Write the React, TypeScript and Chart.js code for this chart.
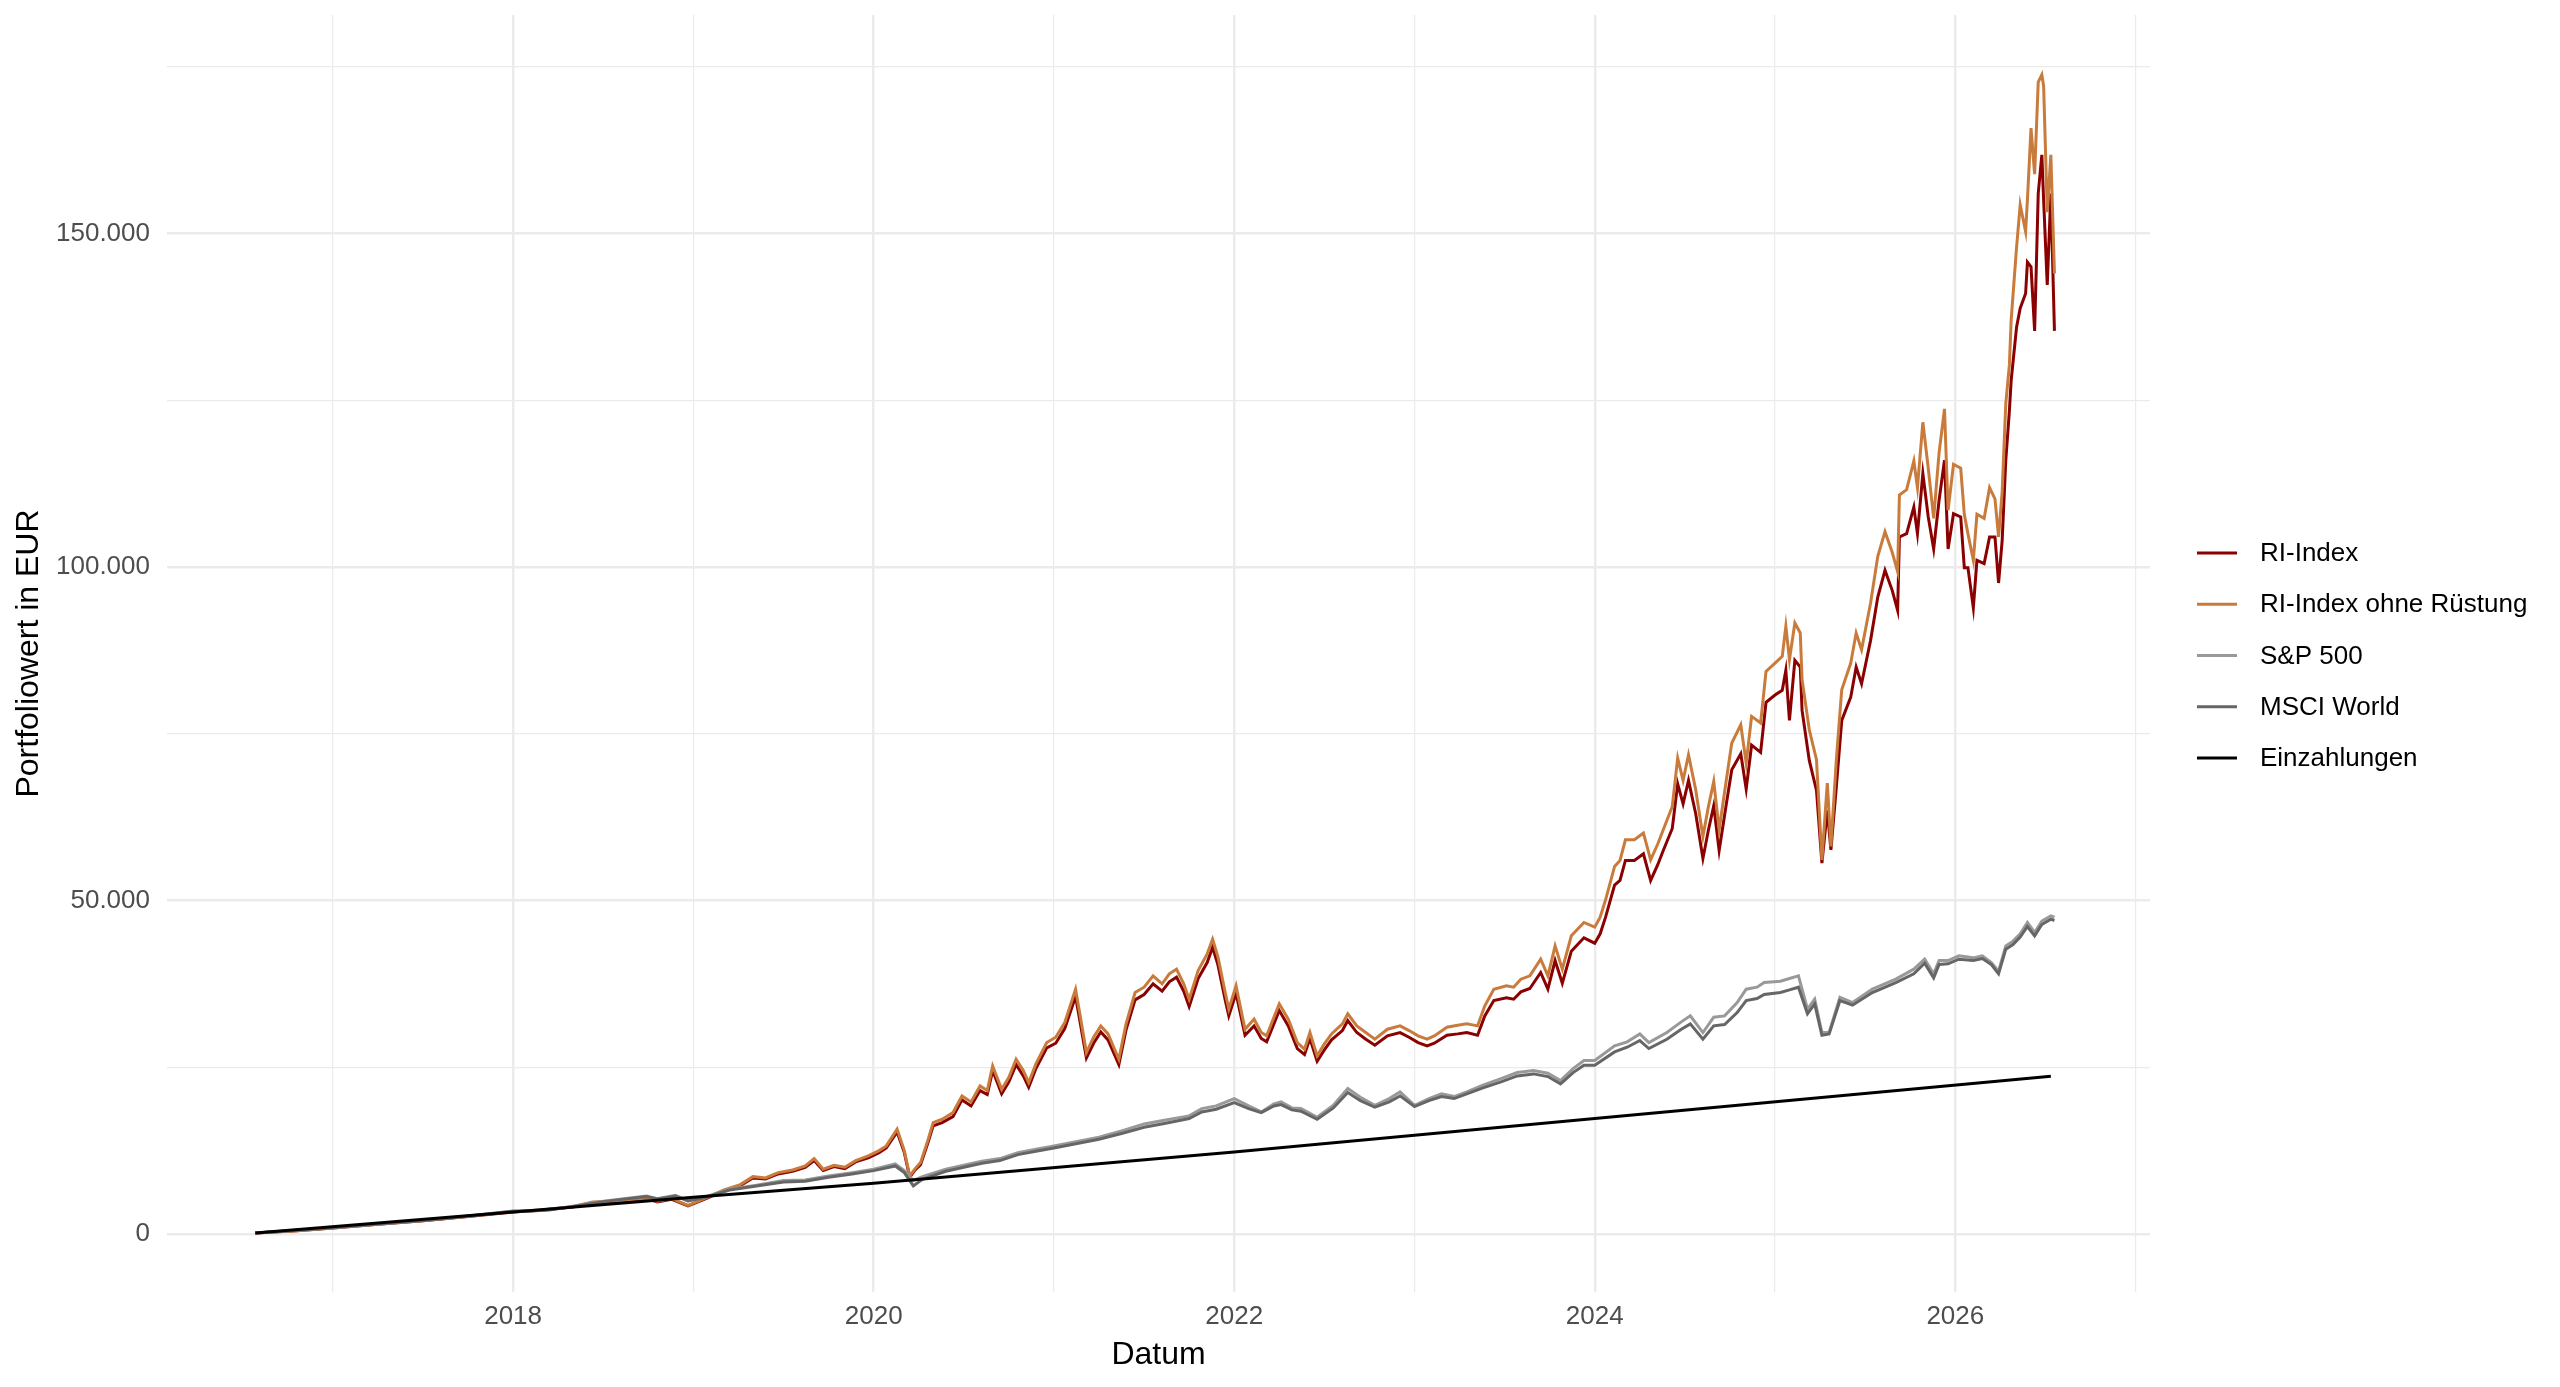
import React, { useEffect, useRef } from "react";
import { Chart, registerables } from "chart.js";

Chart.register(...registerables);

// ---------- data (decimal years) ----------
const riDates = [
  2016.57, 2016.8, 2017.0, 2017.25, 2017.5, 2017.75, 2018.0, 2018.15, 2018.33, 2018.44,
  2018.6, 2018.74, 2018.8, 2018.88, 2018.97, 2019.07, 2019.17, 2019.26, 2019.33, 2019.4,
  2019.47, 2019.55, 2019.62, 2019.67, 2019.72, 2019.78, 2019.84, 2019.9, 2019.97, 2020.03,
  2020.07, 2020.13, 2020.17, 2020.2, 2020.23, 2020.26, 2020.3, 2020.33, 2020.38, 2020.44,
  2020.49, 2020.54, 2020.59, 2020.63, 2020.66, 2020.71, 2020.75, 2020.79, 2020.83, 2020.86,
  2020.9, 2020.96, 2021.01, 2021.06, 2021.12, 2021.15, 2021.18, 2021.22, 2021.26, 2021.3,
  2021.36, 2021.4, 2021.45, 2021.5, 2021.55, 2021.6, 2021.64, 2021.68, 2021.72, 2021.75,
  2021.8, 2021.85, 2021.88, 2021.91, 2021.95, 2021.97, 2022.01, 2022.06, 2022.11, 2022.15,
  2022.18, 2022.22, 2022.25, 2022.3, 2022.35, 2022.39, 2022.42, 2022.46, 2022.5, 2022.54,
  2022.6, 2022.63, 2022.68, 2022.73, 2022.78, 2022.85, 2022.92, 2022.97, 2023.02, 2023.07,
  2023.11, 2023.18, 2023.24, 2023.29, 2023.35, 2023.39, 2023.44, 2023.51, 2023.55, 2023.59,
  2023.64, 2023.7, 2023.74, 2023.78, 2023.82, 2023.87, 2023.94, 2024.0, 2024.03, 2024.06,
  2024.11, 2024.14, 2024.17, 2024.22, 2024.27, 2024.31, 2024.35, 2024.38, 2024.43, 2024.46,
  2024.49, 2024.52, 2024.56, 2024.6, 2024.63, 2024.66, 2024.69, 2024.73, 2024.76, 2024.81,
  2024.84, 2024.87, 2024.92, 2024.95, 2025.0, 2025.04, 2025.06, 2025.08, 2025.11, 2025.14,
  2025.15, 2025.19, 2025.23, 2025.26, 2025.29, 2025.31, 2025.34, 2025.37, 2025.42, 2025.45,
  2025.48, 2025.53, 2025.57, 2025.61, 2025.65, 2025.68, 2025.69, 2025.73, 2025.77, 2025.79,
  2025.82, 2025.85, 2025.88, 2025.91, 2025.94, 2025.96, 2025.99, 2026.03, 2026.05, 2026.07,
  2026.1, 2026.12, 2026.16, 2026.19, 2026.22, 2026.24, 2026.26, 2026.28, 2026.3, 2026.31,
  2026.34, 2026.36, 2026.39, 2026.4, 2026.42, 2026.44, 2026.46, 2026.48, 2026.49, 2026.51,
  2026.53, 2026.55,
];

const riIndexOhneRuestung = [
  150, 500, 900, 1450, 2000, 2650, 3350, 3600, 4100, 4800,
  5000, 5400, 4900, 5300, 4300, 5400, 6600, 7400, 8600, 8400,
  9200, 9600, 10200, 11300, 9700, 10300, 10000, 11000, 11700, 12500,
  13200, 15700, 12500, 8700, 9800, 10700, 14000, 16700, 17200, 18200,
  20700, 19800, 22200, 21500, 25200, 21700, 23500, 26200, 24500, 22700,
  25500, 28700, 29500, 31700, 36700, 32000, 27200, 29500, 31200, 30000,
  26200, 31500, 36200, 37000, 38700, 37500, 39000, 39700, 37500, 35200,
  39500, 42000, 44200, 41500, 36200, 33700, 37200, 30700, 32200, 30200,
  29700, 32500, 34500, 32200, 28700, 27700, 30200, 26700, 28500, 30000,
  31500, 33000, 31200, 30200, 29200, 30700, 31200, 30500, 29700, 29200,
  29700, 31000, 31300, 31500, 31200, 34200, 36700, 37200, 37000, 38200,
  38700, 41200, 38700, 43200, 39700, 44700, 46700, 46000, 47500, 50100,
  55100, 56000, 59100, 59100, 60100, 56100, 58500, 60600, 64100, 71350,
  68000, 71850, 66600, 59600, 64000, 67850, 60600, 68100, 73600, 76350,
  70600, 77600, 76600, 84350, 85600, 86600, 91100, 86100, 91600, 90100,
  83100, 75600, 71100, 56100, 67600, 58100, 71100, 81600, 85600, 90100,
  87600, 94600, 101600, 105300, 102200, 99300, 110800, 111600, 115900, 111900,
  121700, 114800, 107300, 117100, 123700, 108500, 115400, 114800, 107900, 105000,
  101000, 107900, 107300, 111900, 110200, 104500, 111300, 124500, 130300, 137100,
  148000, 154300, 150300, 155000, 165800, 158900, 172700, 173800, 172100, 153200,
  161800, 144000,
];

const riIndex = [
  150, 500, 900, 1440, 1980, 2620, 3300, 3550, 4050, 4700,
  4900, 5300, 4800, 5200, 4200, 5300, 6500, 7250, 8400, 8250,
  9000, 9400, 10000, 11000, 9500, 10100, 9800, 10800, 11400, 12200,
  12900, 15300, 12200, 8500, 9600, 10400, 13600, 16200, 16700, 17600,
  20100, 19200, 21500, 20900, 24500, 21000, 22800, 25400, 23700, 22000,
  24800, 27900, 28600, 30800, 35600, 31000, 26400, 28600, 30300, 29100,
  25400, 30600, 35100, 35900, 37500, 36400, 37800, 38500, 36400, 34100,
  38300, 40700, 43000, 40300, 35100, 32700, 36100, 29800, 31200, 29300,
  28800, 31500, 33500, 31200, 27800, 26900, 29300, 25900, 27600, 29100,
  30500, 32000, 30200, 29200, 28300, 29700, 30200, 29500, 28700, 28200,
  28600, 29800, 30000, 30200, 29800, 32700, 35000, 35400, 35200, 36300,
  36800, 39200, 36700, 41000, 37600, 42400, 44400, 43600, 45000, 47500,
  52300, 53000, 56000, 56000, 57000, 53000, 55400, 57500, 60800, 67500,
  64500, 68000, 63000, 56300, 60500, 64200, 57500, 64500, 69600, 72000,
  66700, 73300, 72200, 79700, 80800, 81500, 84500, 77000, 86000, 85000,
  78500, 71000, 66500, 55600, 63500, 57600, 67000, 77000, 80500, 85000,
  82500, 89000, 95500, 99500, 96500, 93500, 104500, 105000, 109000, 105000,
  114000, 107500, 102700, 110000, 116000, 102700, 108000, 107500, 99900, 99900,
  93900, 101000, 100500, 104500, 104500, 97600, 104000, 116000, 123400, 128000,
  136000, 138800, 141000, 145700, 145000, 135400, 156000, 161800, 155000, 142300,
  156000, 135400,
];

const idxDates = [
  2016.57, 2016.8, 2017.0, 2017.25, 2017.5, 2017.75, 2018.0, 2018.1, 2018.2, 2018.33,
  2018.5, 2018.74, 2018.8, 2018.9, 2018.97, 2019.07, 2019.2, 2019.35, 2019.5, 2019.62,
  2019.75, 2019.88, 2020.0, 2020.12, 2020.17, 2020.22, 2020.27, 2020.4, 2020.5, 2020.6,
  2020.7, 2020.8, 2020.9, 2021.0, 2021.1, 2021.25, 2021.38, 2021.5, 2021.62, 2021.75,
  2021.82, 2021.9, 2022.0, 2022.08, 2022.15, 2022.22, 2022.26, 2022.32, 2022.37, 2022.46,
  2022.55, 2022.63, 2022.7, 2022.78, 2022.86, 2022.92, 2023.0, 2023.08, 2023.15, 2023.22,
  2023.29, 2023.38, 2023.48, 2023.57, 2023.66, 2023.74, 2023.81, 2023.88, 2023.94, 2024.0,
  2024.11, 2024.18, 2024.25, 2024.3, 2024.4, 2024.48, 2024.53, 2024.6, 2024.66, 2024.72,
  2024.79, 2024.84, 2024.9, 2024.94, 2025.03, 2025.08, 2025.13, 2025.18, 2025.22, 2025.26,
  2025.3, 2025.36, 2025.43, 2025.54, 2025.67, 2025.77, 2025.83, 2025.88, 2025.91, 2025.96,
  2026.02, 2026.1, 2026.15, 2026.2, 2026.24, 2026.28, 2026.32, 2026.36, 2026.4, 2026.44,
  2026.48, 2026.53, 2026.55,
];

const sp500 = [
  150, 550, 950, 1500, 2050, 2700, 3450, 3500, 3650, 4150,
  4900, 5700, 5300, 5800, 5000, 5600, 6700, 7300, 8000, 8100,
  8700, 9200, 9700, 10500, 9500, 8000, 8600, 9700, 10300, 10900,
  11300, 12200, 12700, 13200, 13700, 14500, 15500, 16500, 17100, 17700,
  18800, 19200, 20300, 19200, 18300, 19500, 19800, 18900, 18800, 17500,
  19300, 21800, 20500, 19300, 20300, 21300, 19300, 20300, 21000, 20600,
  21300, 22300, 23300, 24200, 24500, 24100, 23000, 24800, 26000, 26000,
  28200, 28800, 30000, 28700, 30200, 31800, 32700, 30200, 32500, 32700,
  34700, 36700, 37000, 37700, 37900, 38300, 38700, 33700, 35200, 30200,
  30200, 35500, 34700, 36700, 38200, 39700, 41200, 39000, 41000, 41000,
  41700, 41400, 41700, 40700, 39400, 43200, 43900, 45000, 46700, 45200,
  46900, 47700, 47500,
];

const msciWorld = [
  150, 540, 930, 1480, 2020, 2650, 3400, 3450, 3600, 4100,
  4850, 5600, 5250, 5700, 4950, 5500, 6600, 7200, 7800, 7900,
  8500, 9000, 9500, 10200, 9200, 7200, 8200, 9400, 10000, 10600,
  11000, 11900, 12400, 12900, 13400, 14200, 15100, 16000, 16600, 17300,
  18300, 18700, 19700, 18800, 18200, 19200, 19400, 18600, 18400, 17200,
  18900, 21200, 20000, 19000, 19800, 20700, 19100, 20000, 20600, 20300,
  21000, 21900, 22800, 23700, 24000, 23600, 22500, 24200, 25300, 25300,
  27300, 28000, 29000, 27800, 29200, 30700, 31500, 29200, 31200, 31400,
  33200, 35000, 35300, 35900, 36200, 36600, 37000, 33000, 34500, 29800,
  30000, 35000, 34300, 36200, 37700, 39000, 40600, 38400, 40400, 40500,
  41200, 41000, 41300, 40400, 39000, 42700, 43400, 44500, 46100, 44700,
  46400, 47200, 47000,
];

const depositDates = [2016.57, 2018.0, 2019.0, 2020.0, 2022.0, 2024.0, 2026.53];
const deposits = [150, 3300, 5500, 7600, 12300, 17300, 23650];

const seriesLabels = ["RI-Index", "RI-Index ohne Rüstung", "S&P 500", "MSCI World", "Einzahlungen"];
const seriesColors = ["#8B0000", "#C97B3C", "#999999", "#666666", "#000000"];

const xTickValues = [2017, 2018, 2019, 2020, 2021, 2022, 2023, 2024, 2025, 2026, 2027];
const yTickValues = [0, 25000, 50000, 75000, 100000, 125000, 150000, 175000];

const FONT = '"Liberation Sans", Arial, Helvetica, sans-serif';

const pairs = (xs: number[], ys: number[]) => xs.map((x, i) => ({ x, y: ys[i] }));

const fmtThousands = (v: number) => String(Math.round(v)).replace(/\B(?=(\d{3})+(?!\d))/g, ".");

const sideLegend = {
  id: "sideLegend",
  afterDraw(chart: any) {
    const { ctx, chartArea } = chart;
    const ds = chart.data.datasets;
    const n = ds.length;
    const rowH = 51.2;
    const cy = (chartArea.top + chartArea.bottom) / 2 + 2;
    const y0 = cy - (rowH * (n - 1)) / 2;
    ctx.save();
    ctx.font = `26px ${FONT}`;
    ctx.textBaseline = "middle";
    ctx.textAlign = "left";
    ds.forEach((d: any, i: number) => {
      const y = y0 + i * rowH;
      ctx.strokeStyle = d.borderColor;
      ctx.lineWidth = 3;
      ctx.beginPath();
      ctx.moveTo(chartArea.right + 47, y);
      ctx.lineTo(chartArea.right + 87, y);
      ctx.stroke();
      ctx.fillStyle = "#000000";
      ctx.fillText(d.label, chartArea.right + 110, y + 1);
    });
    ctx.restore();
  },
};

export default function App() {
  const canvasRef = useRef<HTMLCanvasElement | null>(null);

  useEffect(() => {
    document.body.style.margin = "0";
    const canvas = canvasRef.current;
    if (!canvas) return;
    const dataSets = [
      pairs(riDates, riIndex),
      pairs(riDates, riIndexOhneRuestung),
      pairs(idxDates, sp500),
      pairs(idxDates, msciWorld),
      pairs(depositDates, deposits),
    ];
    const chart = new Chart(canvas, {
      type: "line",
      data: {
        datasets: dataSets.map((data, i) => ({
          label: seriesLabels[i],
          data,
          borderColor: seriesColors[i],
          backgroundColor: seriesColors[i],
          borderWidth: 3,
          pointRadius: 0,
          pointHoverRadius: 0,
          tension: 0,
          fill: false,
          order: 4 - i,
        })),
      },
      options: {
        animation: false,
        responsive: true,
        maintainAspectRatio: false,
        layout: { padding: { top: 15, right: 410, left: 0, bottom: 0 } },
        plugins: {
          legend: { display: false },
          tooltip: { enabled: false },
        },
        scales: {
          x: {
            type: "linear",
            min: 2016.08,
            max: 2027.08,
            afterBuildTicks: (scale: any) => {
              scale.ticks = xTickValues.map((v) => ({ value: v }));
            },
            afterFit: (scale: any) => {
              scale.height = 95;
              scale.paddingLeft = 0;
              scale.paddingRight = 0;
            },
            ticks: {
              autoSkip: false,
              maxRotation: 0,
              padding: 9,
              color: "#4D4D4D",
              font: { family: FONT, size: 26 },
              callback: (v: any) => (Number(v) % 2 === 0 ? String(v) : ""),
            },
            grid: {
              color: "#EBEBEB",
              lineWidth: (c: any) => (c.tick && c.tick.value % 2 === 0 ? 2.4 : 1.2),
              drawTicks: false,
            },
            border: { display: false },
            title: {
              display: true,
              text: "Datum",
              color: "#000000",
              font: { family: FONT, size: 32 },
              padding: { top: 0, bottom: 13 },
            },
          },
          y: {
            type: "linear",
            min: -8700,
            max: 182760,
            afterBuildTicks: (scale: any) => {
              scale.ticks = yTickValues.map((v) => ({ value: v }));
            },
            afterFit: (scale: any) => {
              scale.width = 167;
              scale.paddingTop = 0;
              scale.paddingBottom = 0;
            },
            ticks: {
              autoSkip: false,
              padding: 17,
              color: "#4D4D4D",
              font: { family: FONT, size: 26 },
              callback: (v: any) => (Number(v) % 50000 === 0 ? fmtThousands(Number(v)) : ""),
            },
            grid: {
              color: "#EBEBEB",
              lineWidth: (c: any) => (c.tick && c.tick.value % 50000 === 0 ? 2.4 : 1.2),
              drawTicks: false,
            },
            border: { display: false },
            title: {
              display: true,
              text: "Portfoliowert in EUR",
              color: "#000000",
              font: { family: FONT, size: 32 },
              padding: { top: 10, bottom: 0 },
            },
          },
        },
      },
      plugins: [sideLegend],
    } as any);
    return () => {
      chart.destroy();
    };
  }, []);

  return (
    <div style={{ position: "fixed", left: 0, top: 0, width: "100vw", height: "100vh", background: "#ffffff" }}>
      <canvas ref={canvasRef} />
    </div>
  );
}
